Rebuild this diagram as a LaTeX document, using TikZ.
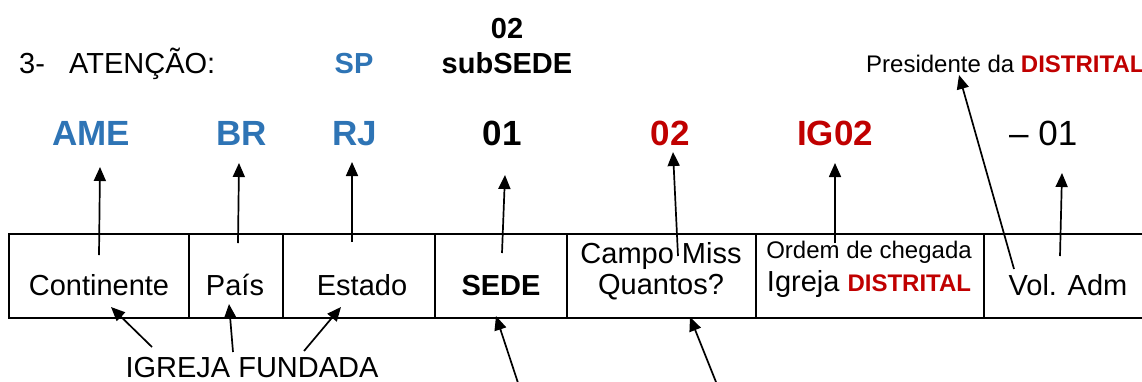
\documentclass[tikz,border=0pt]{standalone}
\usepackage{fontspec}
\setmainfont{Liberation Sans}
\usepackage{tikz}
\usetikzlibrary{positioning}
\usetikzlibrary{arrows.meta}
\definecolor{azul}{RGB}{46,116,181}
\definecolor{verm}{RGB}{192,0,0}
\tikzset{%
  seta/.style = {-{Triangle[length=14pt,width=12pt]},line width=1.7pt},
  grade/.style = {line width=2.2pt},
  txt/.style = {anchor=base,inner sep=0pt,
        font=\fontsize{29}{33}\selectfont},
  big/.style = {anchor=base,inner sep=0pt,
        font=\fontsize{35}{40}\selectfont\bfseries},
  small/.style = {anchor=base,inner sep=0pt,
        font=\fontsize{24}{28}\selectfont}
}

\begin{document}
\begin{tikzpicture}[x=1pt,y=-1pt]
    \useasboundingbox (0,0) rectangle (1142,381);
    % cabecalho
    \node[txt,anchor=base west] (num) at (19,73) {3-};
    \node[txt,anchor=base west] (atencao) at (69,73) {ATENÇÃO:};
    \node[txt,font=\fontsize{29}{33}\selectfont\bfseries,text=azul] (sp) at (354,73) {SP};
    \node[txt,font=\fontsize{29}{33}\selectfont\bfseries] (dois) at (507,38) {02};
    \node[txt,font=\fontsize{29}{33}\selectfont\bfseries] (subsede) at (507,73) {subSEDE};
    \node[small,anchor=base west] (pres) at (866,72)
        {Presidente da {\bfseries\color{verm}DISTRITAL}};
    % codigo
    \node[big,text=azul] (ame) at (91,145) {AME};
    \node[big,text=azul] (br) at (242,145) {BR};
    \node[big,text=azul] (rj) at (355,145) {RJ};
    \node[big] (um) at (502,145) {01};
    \node[big,text=verm] (campo) at (670,145) {02};
    \node[big,text=verm] (ig) at (835,145) {IG02};
    \node[big,anchor=base west,font=\fontsize{35}{40}\selectfont] (vol) at (1009,145) {– 01};
    % tabela
    \draw[grade] (1142,234) -- (9,234) -- (9,318) -- (1142,318);
    \foreach \x in {189,283,435,567,756,984}
        \draw[grade] (\x,234) -- (\x,318);
    \node[txt] (cont) at (99,295) {Continente};
    \node[txt] (pais) at (235,295) {País};
    \node[txt] (est) at (362,295) {Estado};
    \node[txt,font=\fontsize{29}{33}\selectfont\bfseries] (sede) at (501,295) {SEDE};
    \node[txt] (miss) at (661,263) {Campo Miss};
    \node[txt] (quant) at (661,294) {Quantos?};
    \node[small] (ordem) at (869,258) {Ordem de chegada};
    \node[txt] (igreja) at (869,291)
        {Igreja {\fontsize{24}{28}\selectfont\bfseries\color{verm}DISTRITAL}};
    \node[txt] (adm) at (1068,295) {Vol. Adm};
    \node[txt] (fund) at (252,377) {IGREJA FUNDADA};
    % setas para cima
    \coordinate (cAME) at (99,255);   \coordinate (pAME) at (100,167);
    \coordinate (cBR) at (238,243);   \coordinate (pBR) at (239,163);
    \coordinate (cRJ) at (352,242);   \coordinate (pRJ) at (352,162);
    \coordinate (cUM) at (502,253);   \coordinate (pUM) at (505,175);
    \coordinate (cCP) at (678,256);   \coordinate (pCP) at (673,152);
    \coordinate (cIG) at (835,243);   \coordinate (pIG) at (835,163);
    \coordinate (cPR) at (1014,269);  \coordinate (pPR) at (959,75);
    \coordinate (cVL) at (1060,256);  \coordinate (pVL) at (1062,173);
    \foreach \a in {AME,BR,RJ,UM,CP,IG,PR,VL}
        \draw[seta] (c\a) -- (p\a);
    % setas de baixo
    \coordinate (fCont) at (152,347); \coordinate (tCont) at (111,307);
    \coordinate (fPais) at (233,352); \coordinate (tPais) at (229,304);
    \coordinate (fEst) at (304,351);  \coordinate (tEst) at (341,307);
    \coordinate (fSede) at (521,392); \coordinate (tSede) at (496,316);
    \coordinate (fMiss) at (720,392); \coordinate (tMiss) at (690,317);
    \foreach \a in {Cont,Pais,Est,Sede,Miss}
        \draw[seta] (f\a) -- (t\a);
\end{tikzpicture}
\end{document}
